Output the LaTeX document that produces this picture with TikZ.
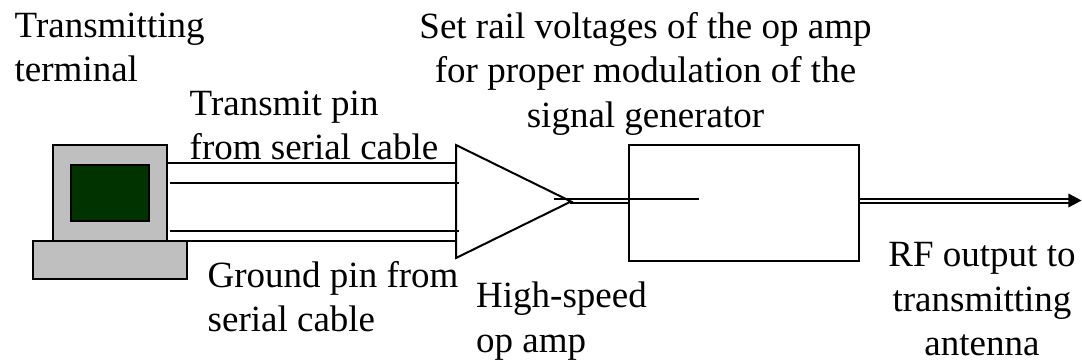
\documentclass[tikz,border=0pt]{standalone}
\usepackage{fontspec}
\setmainfont{Liberation Serif}
\usetikzlibrary{shapes.geometric,positioning}
\tikzset{
    lab/.style={inner sep=0pt,font=\fontsize{37}{44.5}\selectfont},
    wire/.style={line width=2pt},
    casing/.style={draw,line width=2pt,fill=black!25,inner sep=0pt},
}
\begin{document}
\begin{tikzpicture}[x=1pt,y=-1pt]
        \useasboundingbox (0,0) rectangle (1082,362);

        \node (monitor) [casing,minimum width=114pt,minimum height=96pt] at (110,193) {};
        \node (screen) [draw,line width=2pt,fill=green!20!black,inner sep=0pt,minimum width=78pt,minimum height=56pt] at (110,193) {};
        \node (base) [casing,minimum width=154pt,minimum height=38pt,below=-2pt of monitor] {};
        \node (amp) [draw,line width=2pt,isosceles triangle,isosceles triangle stretches,inner sep=0pt,minimum width=113pt,minimum height=115pt,anchor=lower side] at (455,201.5) {};
        \node (siggen) [draw,line width=2pt,inner sep=0pt,minimum width=230pt,minimum height=116pt] at (744,203) {};

        \coordinate (txa) at (455,163);
        \coordinate (txb) at (459,183);
        \coordinate (txc) at (170,183);
        \coordinate (gnda) at (455,241);
        \coordinate (gndb) at (459,231);
        \coordinate (gndc) at (170,231);
        \coordinate (ampin) at (554,199);
        \coordinate (genin) at (699,199);
        \coordinate (ampout) at (570,202.5);
        \coordinate (rfa) at (1072,199);
        \coordinate (rfb) at (1072,203);

        \draw[wire] (monitor.east |- txa) -- (txa);
        \draw[wire] (txc) -- (txb);
        \draw[wire] (gndc) -- (gndb);
        \draw[wire] (monitor.east |- gnda) -- (gnda);
        \draw[wire] (ampin) -- (genin);
        \draw[wire] (ampout) -- (siggen.west |- ampout);
        \draw[wire] (siggen.east |- rfa) -- (rfa);
        \draw[wire] (siggen.east |- rfb) -- (rfb);
        \node (tip) [fill=black,isosceles triangle,isosceles triangle stretches,inner sep=0pt,minimum width=14pt,minimum height=13pt,anchor=apex] at (1082,200.5) {};

        \node (term) [lab,align=left,anchor=north west] at (14.5,12.5) {Transmitting\\terminal};
        \node (rail) [lab,align=center,anchor=north] at (645.5,12) {Set rail voltages of the op amp\\for proper modulation of the\\signal generator};
        \node (txlab) [lab,align=left,anchor=north west] at (189.5,90.5) {Transmit pin\\from serial cable};
        \node (gndlab) [lab,align=left,anchor=north west] at (207.5,261) {Ground pin from\\serial cable};
        \node (amplab) [lab,align=left,anchor=north west] at (476,281.7) {High-speed\\op amp};
        \node (rflab) [lab,align=center,anchor=north] at (982,242.5) {RF output to\\transmitting\\antenna};
\end{tikzpicture}
\end{document}
